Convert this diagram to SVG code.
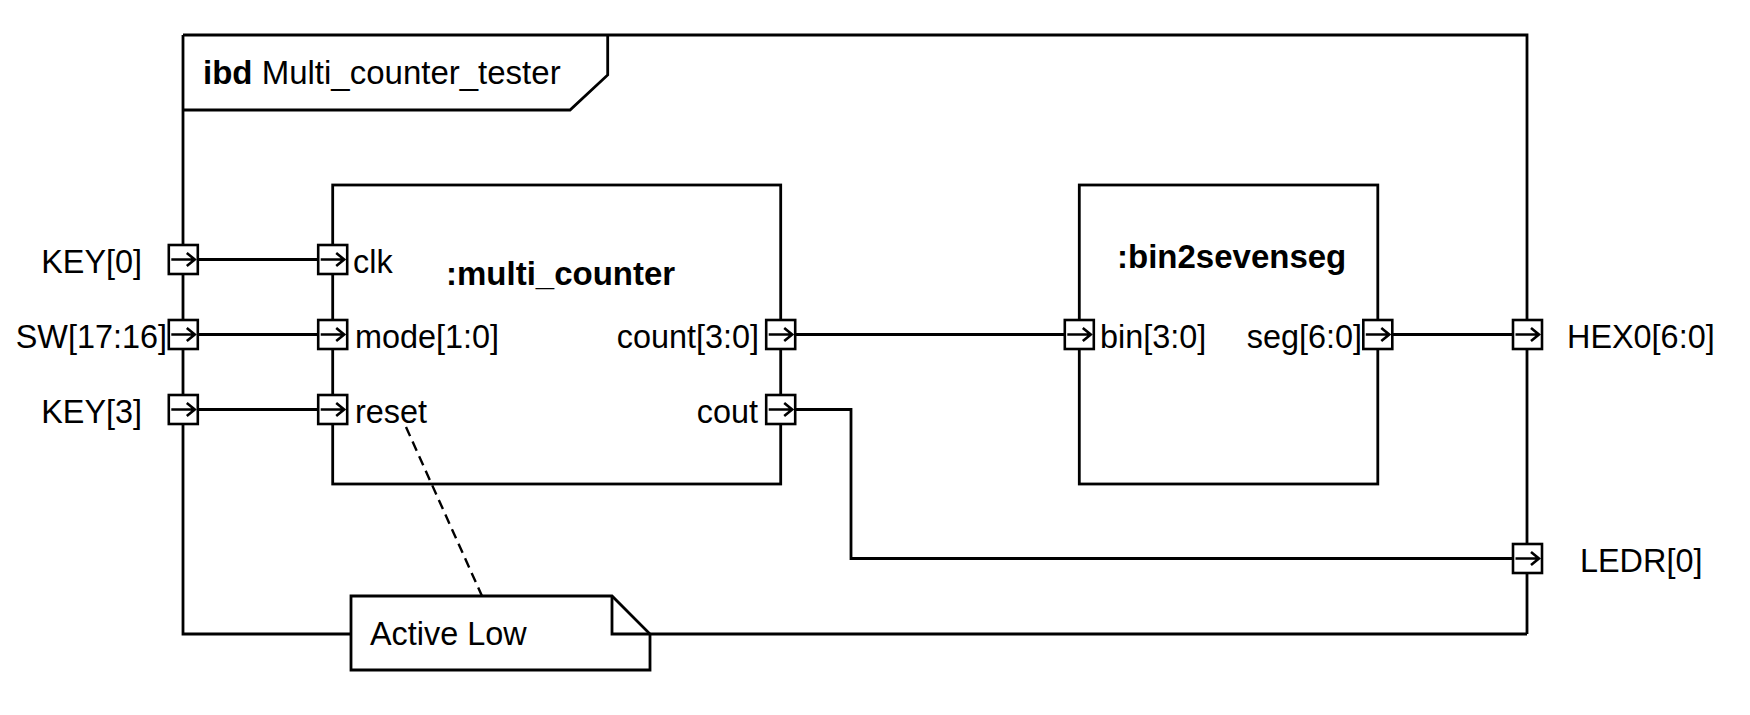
<svg xmlns="http://www.w3.org/2000/svg" width="1750" height="715" viewBox="0 0 1750 715">
<defs>
<style>
.ln{fill:none;stroke:#000;stroke-width:2.8}
.bx{fill:#fff;stroke:#000;stroke-width:2.8}
.pt{fill:#fff;stroke:#000;stroke-width:2.6}
.ar{fill:none;stroke:#000;stroke-width:2.6}
.t{font-family:"Liberation Sans",Arial,sans-serif;font-size:32.4px;fill:#000}
.b{font-weight:bold}
.h{font-size:33px}
.dash{fill:none;stroke:#000;stroke-width:2.4;stroke-dasharray:10 6}
</style>
<g id="portshape">
<rect class="pt" x="-14.5" y="-14.5" width="29" height="29"/>
<path class="ar" d="M-12,0 H11 M3.5,-6.5 L11.5,0 L3.5,6.5"/>
</g>
</defs>
<rect width="1750" height="715" fill="#fff"/>

<g id="frame">
<path class="ln" d="M183,35 H1527 V634 M183,35 V634 H351"/>
<path class="ln" d="M183,110 H570 L607.7,75 V35"/>
<text class="t h" x="203" y="84"><tspan class="b">ibd</tspan> Multi_counter_tester</text>
</g>

<g id="multi_counter">
<rect class="bx" x="332.7" y="185" width="448" height="299"/>
<text class="t b h" x="446" y="285">:multi_counter</text>
<use href="#portshape" x="332.7" y="259.5"/>
<use href="#portshape" x="332.7" y="334.5"/>
<use href="#portshape" x="332.7" y="409.5"/>
<use href="#portshape" x="780.7" y="334.5"/>
<use href="#portshape" x="780.7" y="409.5"/>
<text class="t" x="353" y="272.5">clk</text>
<text class="t" x="355" y="347.5">mode[1:0]</text>
<text class="t" x="355" y="422.5">reset</text>
<text class="t" x="759" y="347.5" text-anchor="end">count[3:0]</text>
<text class="t" x="758" y="422.5" text-anchor="end">cout</text>
</g>

<g id="bin2sevenseg">
<rect class="bx" x="1079.3" y="185" width="298.5" height="299"/>
<text class="t b h" x="1117" y="268">:bin2sevenseg</text>
<use href="#portshape" x="1079.3" y="334.5"/>
<use href="#portshape" x="1377.8" y="334.5"/>
<text class="t" x="1100" y="347.5">bin[3:0]</text>
<text class="t" x="1362" y="347.5" text-anchor="end">seg[6:0]</text>
</g>

<g id="port_KEY0">
<use href="#portshape" x="183.3" y="259.5"/>
<text class="t" x="142" y="272.5" text-anchor="end">KEY[0]</text>
</g>
<g id="port_SW">
<use href="#portshape" x="183.3" y="334.5"/>
<text class="t" x="167" y="347.5" text-anchor="end">SW[17:16]</text>
</g>
<g id="port_KEY3">
<use href="#portshape" x="183.3" y="409.5"/>
<text class="t" x="142" y="422.5" text-anchor="end">KEY[3]</text>
</g>
<g id="port_HEX0">
<use href="#portshape" x="1527.5" y="334.5"/>
<text class="t" x="1567" y="347.5">HEX0[6:0]</text>
</g>
<g id="port_LEDR">
<use href="#portshape" x="1527.5" y="558.5"/>
<text class="t" x="1580" y="571.5">LEDR[0]</text>
</g>

<g id="note">
<path class="bx" d="M351,596 H612 L650,634 V670 H351 Z"/>
<path class="ln" d="M612,596 V634 H650"/>
<path class="ln" d="M650,634 H1527"/>
<text class="t" x="370" y="645">Active Low</text>
</g>

<g id="connectors">
<path class="ln" d="M197.5,259.5 H318"/>
<path class="ln" d="M197.5,334.5 H318"/>
<path class="ln" d="M197.5,409.5 H318"/>
<path class="ln" d="M795.3,334.5 H1064.5"/>
<path class="ln" d="M795.3,409.5 H851 V558.5 H1513"/>
<path class="ln" d="M1393,334.5 H1513"/>
<path class="dash" d="M406,427 L482,596"/>
</g>
</svg>
